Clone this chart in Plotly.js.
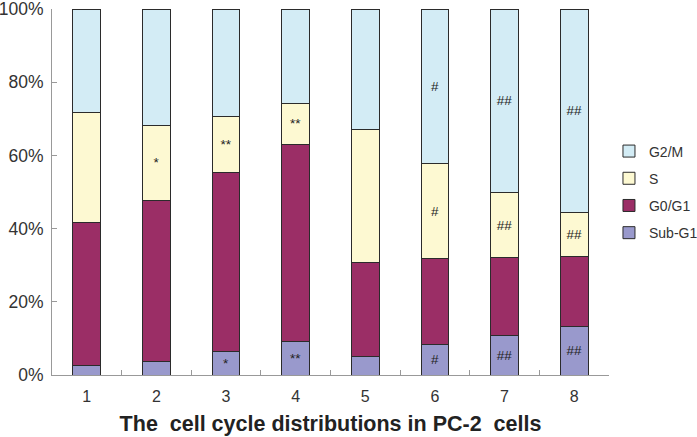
<!DOCTYPE html>
<html>
<head>
<meta charset="utf-8">
<script src="https://cdn.plot.ly/plotly-3.0.1.min.js"></script>
<style>html,body{margin:0;padding:0;background:#fff;}#chart{width:697px;height:437px;}</style>
</head>
<body>
<div id="chart"></div>
<script>
const categories = ['1','2','3','4','5','6','7','8'];
const subG1 = [2.6, 3.7, 6.3, 9.1, 5.1, 8.2, 10.7, 13.3];
const g0g1  = [39.0, 44.1, 49.1, 54.0, 25.7, 23.5, 21.3, 19.0];
const sPhase = [30.1, 20.4, 15.3, 11.1, 36.3, 26.0, 17.8, 12.1];
const g2m   = [28.3, 31.8, 29.3, 25.8, 32.9, 42.3, 50.2, 55.6];
const subG1Marks = ['', '', '*', '**', '', '#', '##', '##'];
const g0g1Marks  = ['', '', '', '', '', '', '', ''];
const sMarks     = ['', '*', '**', '**', '', '#', '##', '##'];
const g2mMarks   = ['', '', '', '', '', '#', '##', '##'];

function tr(name, y, marks, color, rank) {
  return {
    type: 'bar', name: name, x: categories, y: y, legendgroup: name, legendrank: rank,
    text: marks, textposition: 'inside', insidetextanchor: 'middle',
    textangle: 0, constraintext: 'none',
    textfont: {family: 'Liberation Sans, Arial, sans-serif', size: 13.5, color: '#222'},
    marker: {color: color, line: {color: '#2b2b2b', width: 1}},
    width: 0.4, hoverinfo: 'skip'
  };
}
const data = [
  tr('Sub-G1', subG1, subG1Marks, '#9999CC', 4),
  tr('G0/G1', g0g1, g0g1Marks, '#9B2E66', 3),
  tr('S', sPhase, sMarks, '#FDF9D2', 2),
  tr('G2/M', g2m, g2mMarks, '#D3ECF5', 1)
];
const layout = {
  width: 697, height: 437,
  margin: {l: 52, r: 88, t: 9, b: 62, autoexpand: false},
  barmode: 'stack',
  paper_bgcolor: '#fff', plot_bgcolor: '#fff',
  font: {family: 'Liberation Sans, Arial, sans-serif', color: '#333'},
  showlegend: true,
  legend: {xref: 'container', yref: 'container', x: 0.8737, xanchor: 'left', y: 0.69, yanchor: 'top', traceorder: 'grouped',
           font: {size: 14, color: '#333'}, tracegroupgap: 6, itemwidth: 30, bgcolor: 'rgba(0,0,0,0)'},
  xaxis: {
    type: 'category', showline: true, linecolor: '#999', linewidth: 1,
    ticks: 'inside', tickson: 'boundaries', ticklen: 5, tickcolor: '#999',
    ticklabelstandoff: 7,
    tickfont: {size: 16, color: '#333'}, showgrid: false, zeroline: false,
    title: {text: 'The  cell cycle distributions in PC-2  cells', font: {size: 21.5, color: '#222', family: 'Liberation Sans, Arial, sans-serif', weight: 'bold'}, standoff: 11}
  },
  yaxis: {
    range: [0, 100], tickvals: [0, 20, 40, 60, 80, 100],
    ticktext: ['0%', '20%', '40%', '60%', '80%', '100%'],
    showline: true, linecolor: '#999', linewidth: 1,
    ticks: 'inside', ticklen: 5, tickcolor: '#999',
    ticklabelstandoff: 4, ticklabeloverflow: 'allow',
    tickfont: {size: 17.5, color: '#333'}, showgrid: false, zeroline: false
  }
};
Plotly.newPlot('chart', data, layout, {displayModeBar: false, staticPlot: true});
</script>
</body>
</html>
